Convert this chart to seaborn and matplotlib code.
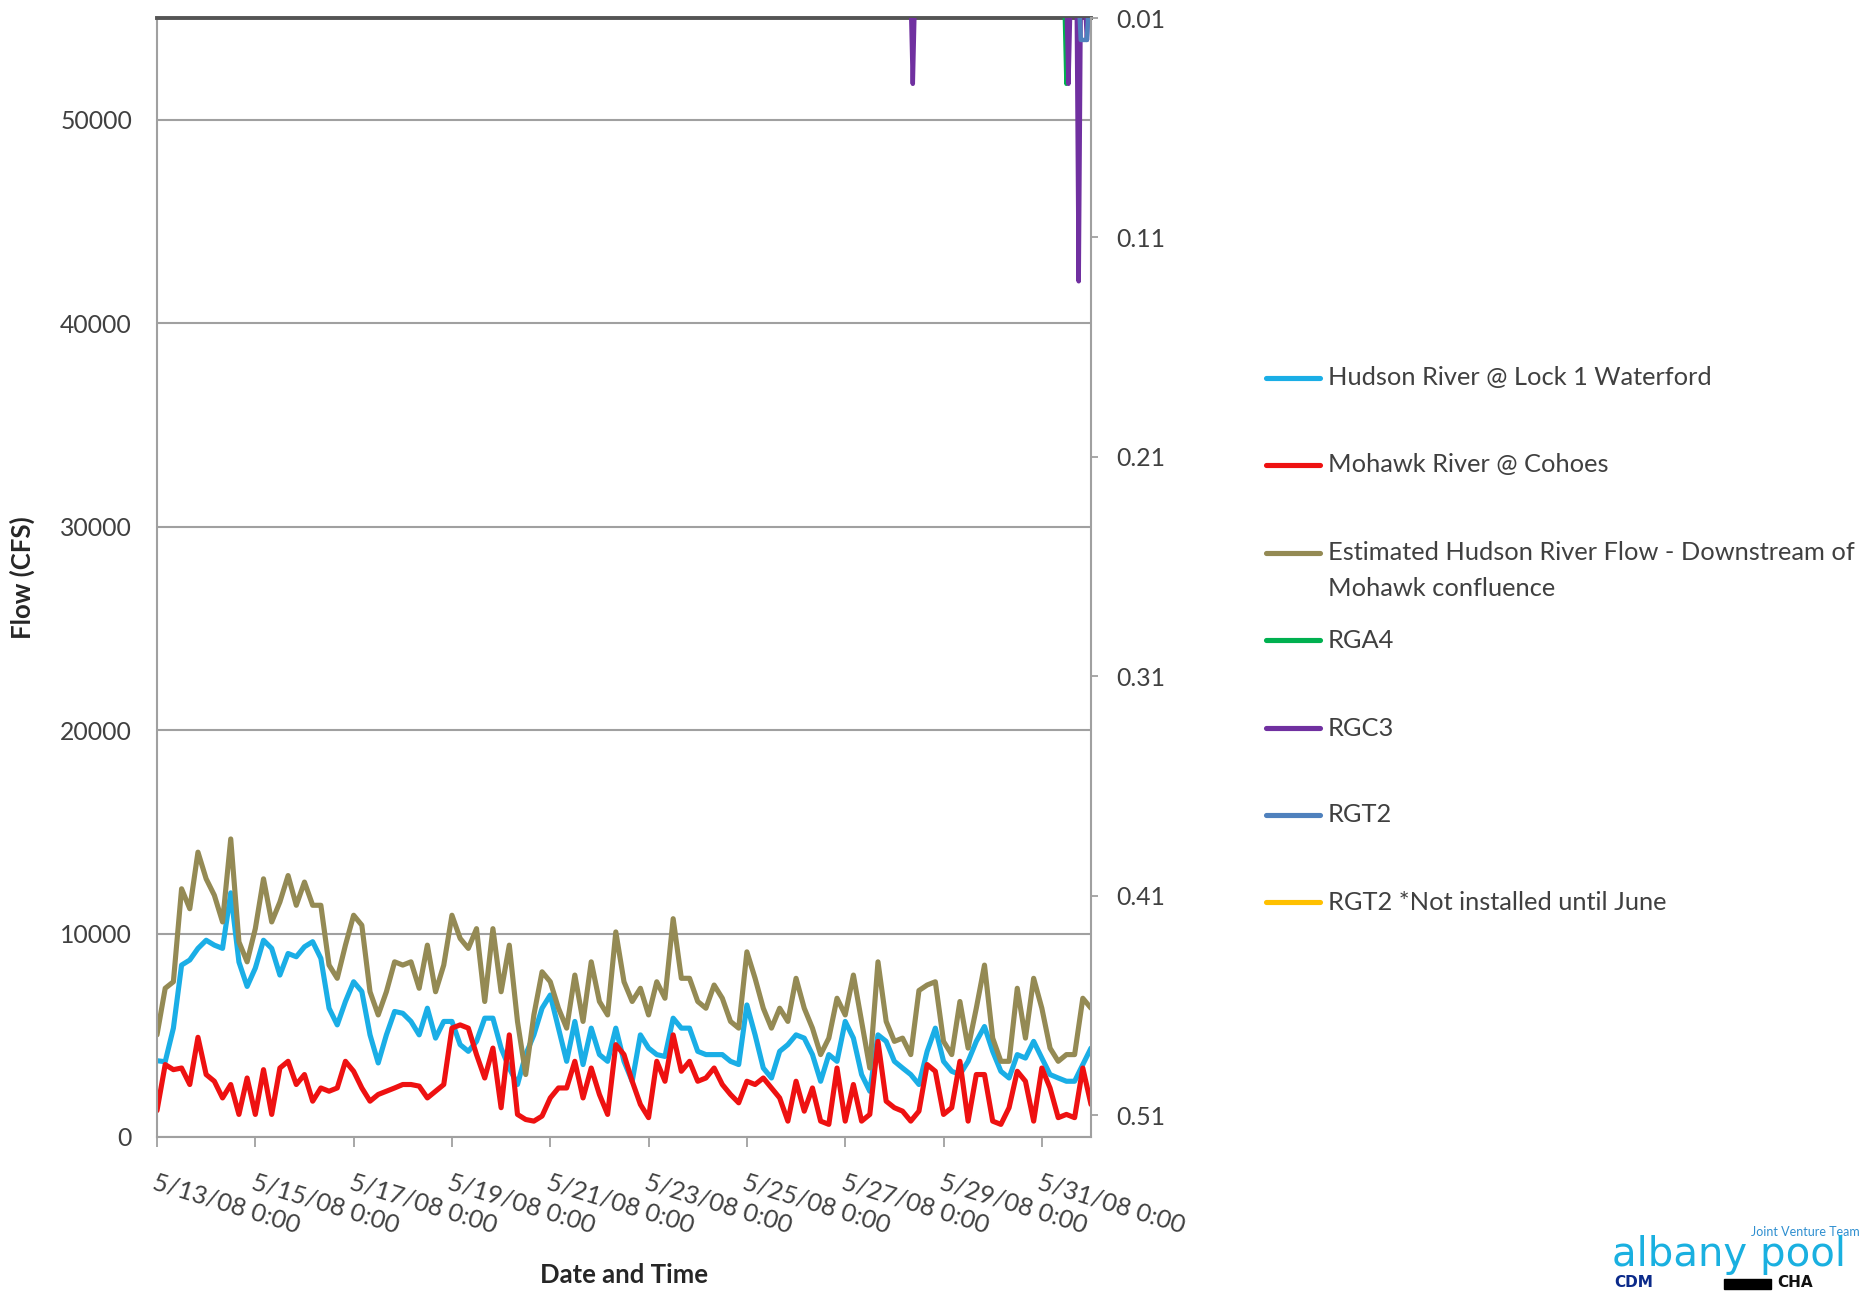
import matplotlib
matplotlib.use("Agg")
import matplotlib.pyplot as plt
from matplotlib.lines import Line2D
import pandas as pd
import seaborn as sns

# ---------------------------------------------------------------- data
# River flows (CFS), one reading every 4 hours from 5/13/08 0:00 to 6/1/08 0:00
hudson_lock1 = [
    3750, 3700, 5350, 8450, 8700, 9270,
    9670, 9430, 9270, 12000, 8600, 7400,
    8300, 9670, 9270, 7960, 9020, 8860,
    9350, 9600, 8780, 6330, 5510, 6660,
    7630, 7150, 5020, 3640, 5020, 6170,
    6080, 5680, 5020, 6330, 4860, 5680,
    5680, 4540, 4210, 4700, 5840, 5840,
    4370, 3390, 2580, 4050, 5020, 6330,
    6980, 5350, 3720, 5680, 3560, 5350,
    4050, 3720, 5350, 3720, 2740, 5020,
    4370, 4050, 3960, 5840, 5350, 5350,
    4210, 4050, 4050, 4050, 3720, 3560,
    6490, 5020, 3390, 2900, 4210, 4540,
    5020, 4860, 4050, 2740, 4050, 3720,
    5680, 4860, 3070, 2250, 5020, 4700,
    3720, 3390, 3070, 2580, 4210, 5350,
    3720, 3230, 3070, 3720, 4700, 5430,
    4210, 3230, 2900, 4050, 3880, 4700,
    3880, 3070, 2900, 2740, 2740, 3560,
    4370,
]
mohawk_cohoes = [
    1300, 3560, 3310, 3390, 2580, 4900,
    3070, 2740, 1920, 2580, 1110, 2900,
    1110, 3310, 1110, 3390, 3720, 2580,
    3070, 1760, 2410, 2250, 2410, 3720,
    3230, 2410, 1760, 2090, 2250, 2410,
    2580, 2580, 2500, 1920, 2250, 2580,
    5350, 5510, 5350, 4050, 2900, 4370,
    1440, 5020, 1110, 860, 780, 1030,
    1920, 2410, 2410, 3720, 1920, 3390,
    2090, 1110, 4540, 4050, 2740, 1600,
    950, 3720, 2740, 5020, 3230, 3720,
    2740, 2900, 3390, 2580, 2090, 1680,
    2740, 2580, 2900, 2410, 1920, 780,
    2740, 1270, 2410, 780, 620, 3390,
    780, 2580, 780, 1110, 4700, 1760,
    1440, 1270, 780, 1270, 3560, 3230,
    1110, 1440, 3720, 780, 3070, 3070,
    780, 620, 1440, 3230, 2740, 780,
    3390, 2410, 950, 1110, 950, 3390,
    1600,
]
est_downstream = [
    5020, 7310, 7630, 12200, 11220, 14000,
    12690, 11880, 10570, 14650, 9590, 8610,
    10240, 12690, 10570, 11550, 12850, 11390,
    12530, 11390, 11390, 8450, 7800, 9430,
    10900, 10410, 7140, 6000, 7140, 8610,
    8450, 8610, 7310, 9430, 7140, 8450,
    10900, 9760, 9270, 10240, 6660, 10240,
    7140, 9430, 5680, 3070, 6000, 8120,
    7630, 6330, 5350, 7960, 5680, 8610,
    6660, 6000, 10080, 7630, 6660, 7310,
    6000, 7630, 6820, 10730, 7800, 7800,
    6660, 6330, 7470, 6820, 5680, 5350,
    9100, 7800, 6330, 5350, 6330, 5680,
    7800, 6330, 5350, 4050, 4860, 6820,
    6000, 7960, 5680, 3390, 8610, 5680,
    4700, 4860, 4050, 7200, 7470, 7630,
    4700, 4050, 6660, 4370, 6330, 8450,
    4860, 3720, 3720, 7310, 4860, 7800,
    6330, 4370, 3720, 4050, 4050, 6820,
    6330,
]

# Rain gauges (inches per hour); hours not listed are dry
rga4_times = ["2008-05-31 11:00", "2008-05-31 12:00", "2008-05-31 13:00"]
rga4_in = [0.0, 0.04, 0.0]

rgc3_times = ["2008-05-28 08:00", "2008-05-28 09:00", "2008-05-28 10:00",
              "2008-05-31 12:00", "2008-05-31 13:00", "2008-05-31 14:00",
              "2008-05-31 17:00", "2008-05-31 18:00", "2008-05-31 19:00",
              "2008-05-31 21:00", "2008-05-31 22:00", "2008-05-31 23:00"]
rgc3_in = [0.0, 0.04, 0.0,
           0.0, 0.04, 0.0,
           0.0, 0.13, 0.0,
           0.0, 0.02, 0.0]

rgt2_times = ["2008-05-31 18:00", "2008-05-31 19:00", "2008-05-31 20:00",
              "2008-05-31 21:00", "2008-05-31 22:00", "2008-05-31 23:00"]
rgt2_in = [0.0, 0.02, 0.02, 0.02, 0.02, 0.0]

series_labels = [
    "Hudson River @ Lock 1 Waterford",
    "Mohawk River @ Cohoes",
    "Estimated Hudson River Flow - Downstream of\nMohawk confluence",
    "RGA4",
    "RGC3",
    "RGT2",
    "RGT2 *Not installed until June",
]
series_colors = ["#1aaee6", "#ee1111", "#948a54", "#00b050", "#7030a0", "#4f81bd", "#ffc000"]

flow_ticks = [0, 10000, 20000, 30000, 40000, 50000]
rain_ticks = [0.01, 0.11, 0.21, 0.31, 0.41, 0.51]

# ---------------------------------------------------------------- style
sns.set_theme(style="white")
plt.rcParams["font.family"] = ["Lato", "DejaVu Sans"]
TXT = "#404040"
GRID = "#a0a0a0"
FS = 17.8

W, H = 1864, 1291
fig = plt.figure(figsize=(W / 100, H / 100), dpi=100)


def fx(px):
    return px / W


def fy(py):
    return 1 - py / H


ax = fig.add_axes([fx(157), fy(1137), fx(1091) - fx(157), fy(18) - fy(1137)])

times = pd.date_range("2008-05-13 00:00", periods=len(hudson_lock1), freq="4h")
flows = pd.DataFrame({"time": times, "hudson": hudson_lock1,
                      "mohawk": mohawk_cohoes, "est": est_downstream})

LW = 3.7
sns.lineplot(data=flows, x="time", y="hudson", ax=ax, color=series_colors[0], lw=LW, legend=False)
sns.lineplot(data=flows, x="time", y="mohawk", ax=ax, color=series_colors[1], lw=LW, legend=False)
sns.lineplot(data=flows, x="time", y="est", ax=ax, color=series_colors[2], lw=LW, legend=False)

ax.set_xlim(pd.Timestamp("2008-05-13"), pd.Timestamp("2008-06-01"))
ax.set_ylim(0, 55000)
ax.set_yticks(flow_ticks)
ax.set_yticklabels([str(v) for v in flow_ticks])
ax.yaxis.grid(True, color=GRID, lw=1.5)
ax.xaxis.grid(False)
ax.set_axisbelow(True)

tick_dates = pd.date_range("2008-05-13", "2008-05-31", freq="2D")
ax.set_xticks(tick_dates)
ax.set_xticklabels([f"{d.month}/{d.day}/{d:%y} {d.hour}:{d:%M}" for d in tick_dates],
                   rotation=-17, ha="left", va="top", rotation_mode="anchor")
ax.tick_params(axis="x", length=7, width=1.3, color=GRID, pad=17,
               labelsize=18.2, labelcolor=TXT, bottom=True)
ax.tick_params(axis="y", length=0, pad=18, labelsize=FS, labelcolor=TXT)

ax.set_xlabel("Date and Time", fontsize=18.5, fontweight="bold", color="#262626")
ax.xaxis.set_label_coords(0.5, -0.113)
ax.set_ylabel("Flow (CFS)", fontsize=18.5, fontweight="bold", color="#262626")
ax.yaxis.set_label_coords(-0.131, 0.5)

for side in ("left", "bottom"):
    ax.spines[side].set_color(GRID)
    ax.spines[side].set_linewidth(1.5)
ax.spines["right"].set_visible(False)
ax.spines["top"].set_color("#555555")
ax.spines["top"].set_linewidth(2.8)
ax.spines["top"].set_zorder(5)

# rainfall on an inverted secondary axis
ax2 = ax.twinx()
for t, v, c in [(rga4_times, rga4_in, series_colors[3]),
                (rgc3_times, rgc3_in, series_colors[4]),
                (rgt2_times, rgt2_in, series_colors[5])]:
    sns.lineplot(x=pd.to_datetime(t), y=v, ax=ax2, color=c, lw=3.2, legend=False)
ax2.set_ylim(0.52, 0.01)
ax2.set_yticks(rain_ticks)
ax2.set_yticklabels([f"{v:.2f}" for v in rain_ticks])
ax2.tick_params(axis="y", right=True, length=5, width=1.3, color=GRID, pad=13,
                labelsize=FS, labelcolor=TXT)
ax2.grid(False)
ax2.set_ylabel("")
for side in ("left", "bottom", "top"):
    ax2.spines[side].set_visible(False)
ax2.spines["right"].set_color(GRID)
ax2.spines["right"].set_linewidth(1.5)
ax2.set_xlim(ax.get_xlim())

# legend
legend_y = [378, 465, 553, 640, 728, 815, 902]
for lab, col, y in zip(series_labels, series_colors, legend_y):
    fig.add_artist(Line2D([fx(1266), fx(1320)], [fy(y), fy(y)], color=col, lw=LW,
                          transform=fig.transFigure))
    for k, line in enumerate(lab.split("\n")):
        fig.text(fx(1328), fy(y + 35 * k), line, ha="left", va="center",
                 fontsize=18.3, color=TXT)

# team logo lettering
fig.text(fx(1860), fy(1232), "Joint Venture Team", ha="right", va="center",
         fontsize=9, color="#2f8fd0")
fig.text(fx(1612), fy(1266), "albany pool", ha="left", va="baseline",
         fontsize=29, color="#1ab0e0", family="DejaVu Sans")
fig.text(fx(1614), fy(1290), "CDM", ha="left", va="bottom",
         fontsize=11, fontweight="bold", color="#0b2a8a", family="DejaVu Sans")
fig.add_artist(plt.Rectangle((fx(1724), fy(1289)), fx(1771) - fx(1724), fy(1279) - fy(1289),
                             color="black", transform=fig.transFigure))
fig.text(fx(1777), fy(1290), "CHA", ha="left", va="bottom",
         fontsize=11, fontweight="bold", color="#111111", family="DejaVu Sans")

fig.savefig("out.png", dpi=100, facecolor="white")
